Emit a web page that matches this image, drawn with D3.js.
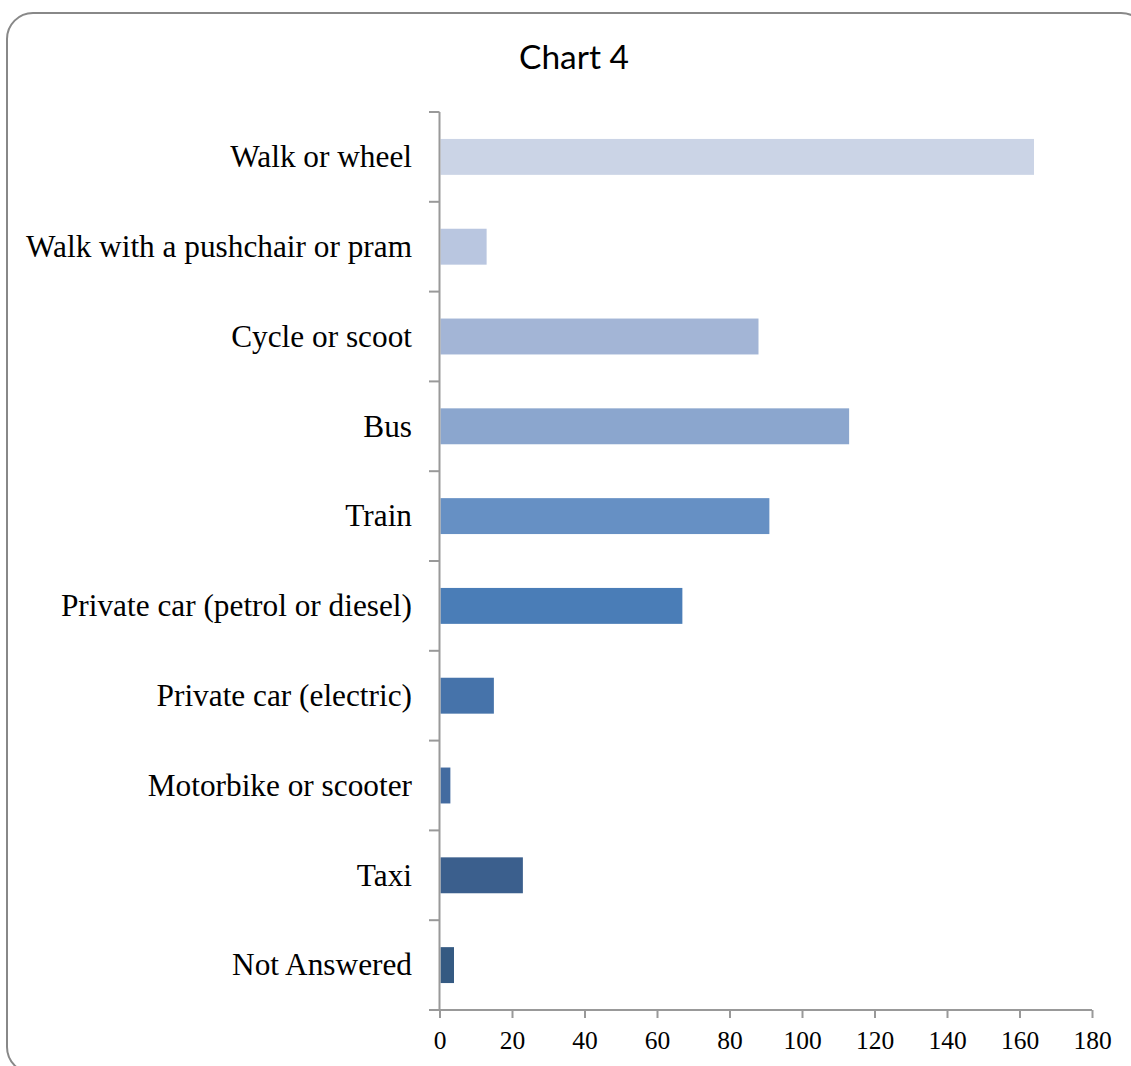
<!DOCTYPE html>
<html><head><meta charset="utf-8">
<script src="https://cdn.jsdelivr.net/npm/d3@7"></script>
<style>html,body{margin:0;padding:0;background:#fff;overflow:hidden}</style>
</head><body>
<svg id="c" width="1131" height="1066"></svg>
<script>
const categories = ["Walk or wheel","Walk with a pushchair or pram","Cycle or scoot","Bus","Train","Private car (petrol or diesel)","Private car (electric)","Motorbike or scooter","Taxi","Not Answered"];
const values = [164, 13, 88, 113, 91, 67, 15, 3, 23, 4];
const barColors = ["#CBD4E6","#B9C6E0","#A3B5D6","#8BA6CE","#6690C4","#4A7DB7","#4673AA","#436BA0","#3B5F8D","#355A82"];
const xTicks = [0,20,40,60,80,100,120,140,160,180];
const title = "Chart 4";

const svg = d3.select("#c");
svg.append("rect").attr("x",7).attr("y",13).attr("width",1140).attr("height",1060)
  .attr("rx",26).attr("ry",26).attr("fill","#fff").attr("stroke","#888").attr("stroke-width",2);

svg.append("text").attr("x",574).attr("y",69).attr("text-anchor","middle")
  .attr("font-family","Lato, 'Open Sans', sans-serif").attr("font-size",33.5).attr("fill","#000").text(title);

const x = d3.scaleLinear().domain([0,180]).range([439.5,1092]);
const y = d3.scaleBand().domain(categories).range([112,1010]).paddingInner(0.6).paddingOuter(0.3);

svg.selectAll("rect.bar").data(categories).enter().append("rect").attr("class","bar")
  .attr("x", x(0)+1).attr("y", d=>y(d))
  .attr("width", (d,i)=>x(values[i])-x(0)-1).attr("height", y.bandwidth())
  .attr("fill",(d,i)=>barColors[i]);

const axisCol = "#999";
svg.append("line").attr("x1",x(0)).attr("x2",x(0)).attr("y1",112).attr("y2",1010).attr("stroke",axisCol).attr("stroke-width",2);
const step = y.step();
const bounds = categories.map(c=>y(c)+y.bandwidth()/2-step/2).concat([1010]);
svg.selectAll("line.yt").data(bounds).enter().append("line").attr("class","yt")
  .attr("x1",429).attr("x2",x(0)).attr("y1",d=>d).attr("y2",d=>d).attr("stroke",axisCol).attr("stroke-width",2);
svg.selectAll("text.yl").data(categories).enter().append("text").attr("class","yl")
  .attr("x",412).attr("y",d=>y(d)+y.bandwidth()/2).attr("dy","0.33em").attr("text-anchor","end")
  .attr("font-family","'Liberation Serif', serif").attr("font-size",31.3).attr("fill","#000").text(d=>d);

const xa = svg.append("g").attr("transform","translate(0,1010)")
  .call(d3.axisBottom(x).tickValues(xTicks).tickSize(8).tickSizeOuter(0).tickPadding(13));
xa.select(".domain").remove();
xa.append("line").attr("x1",429).attr("x2",x(180)).attr("y1",0).attr("y2",0).attr("stroke",axisCol).attr("stroke-width",2);
xa.selectAll(".tick line").attr("stroke",axisCol).attr("stroke-width",2);
xa.selectAll(".tick text").attr("font-family","'Liberation Serif', serif").attr("font-size",25.5).attr("fill","#000");
</script>
</body></html>
